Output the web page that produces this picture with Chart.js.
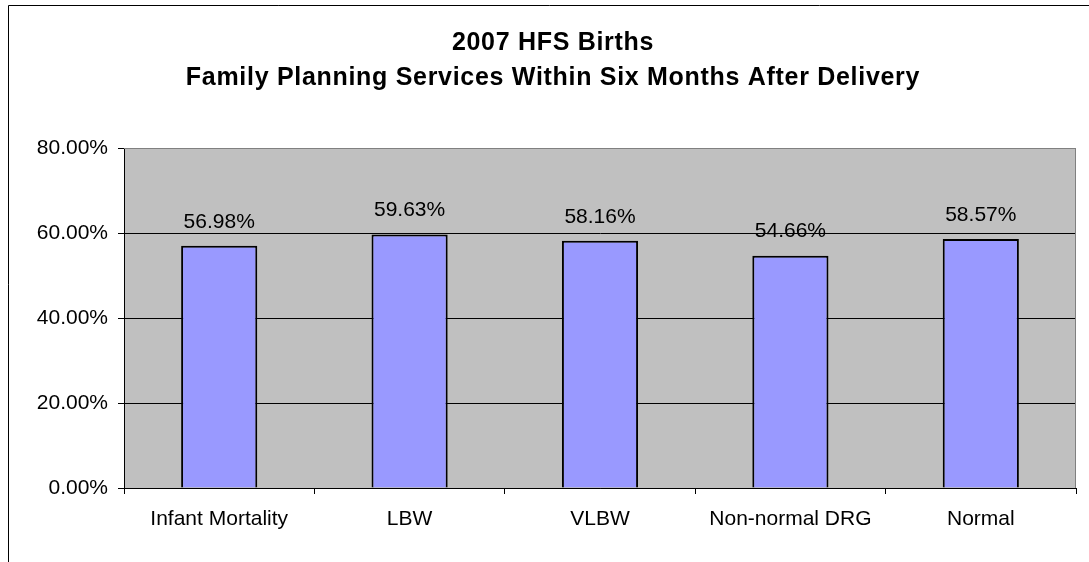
<!DOCTYPE html>
<html>
<head>
<meta charset="utf-8">
<script src="https://cdn.jsdelivr.net/npm/chart.js@4.4.0/dist/chart.umd.min.js"></script>
<style>
html,body{margin:0;padding:0;background:#fff;}
#wrap{width:1089px;height:562px;position:relative;}
</style>
</head>
<body>
<div id="wrap"><canvas id="c" width="1089" height="562"></canvas></div>
<script>
const titleLines = ['2007 HFS Births', 'Family Planning Services Within Six Months After Delivery'];
const categories = ['Infant Mortality', 'LBW', 'VLBW', 'Non-normal DRG', 'Normal'];
const values = [56.98, 59.63, 58.16, 54.66, 58.57];
const yTicks = [0, 20, 40, 60, 80];

const FONT = "'Liberation Sans', Arial, sans-serif";

const decorPlugin = {
  id: 'decor',
  beforeDraw(chart) {
    const ctx = chart.ctx, a = chart.chartArea;
    ctx.save();
    ctx.fillStyle = '#fff';
    ctx.fillRect(0, 0, chart.width, chart.height);
    ctx.fillStyle = '#C0C0C0';
    ctx.fillRect(a.left, a.top, a.right - a.left, a.bottom - a.top);
    ctx.strokeStyle = '#000';
    ctx.lineWidth = 1;
    ctx.beginPath();
    ctx.moveTo(8.5, chart.height + 2);
    ctx.lineTo(8.5, 5.5);
    ctx.lineTo(chart.width + 2, 5.5);
    ctx.stroke();
    // title
    ctx.fillStyle = '#000';
    ctx.font = 'bold 25px ' + FONT;
    ctx.textAlign = 'center';
    ctx.textBaseline = 'alphabetic';
    if ('letterSpacing' in ctx) ctx.letterSpacing = '0.7px';
    const cx = 553;
    ctx.fillText(titleLines[0], cx, 50);
    ctx.fillText(titleLines[1], cx, 85);
    if ('letterSpacing' in ctx) ctx.letterSpacing = '0px';
    ctx.restore();
  },
  afterDatasetsDraw(chart) {
    const ctx = chart.ctx, a = chart.chartArea;
    ctx.save();
    ctx.strokeStyle = '#808080';
    ctx.lineWidth = 1;
    ctx.beginPath();
    ctx.moveTo(a.left, a.top + 0.5);
    ctx.lineTo(a.right - 0.5, a.top + 0.5);
    ctx.lineTo(a.right - 0.5, a.bottom);
    ctx.stroke();
    const meta = chart.getDatasetMeta(0);
    ctx.fillStyle = '#000';
    ctx.font = '21px ' + FONT;
    ctx.textAlign = 'center';
    ctx.textBaseline = 'middle';
    meta.data.forEach((bar, i) => {
      ctx.fillText(values[i].toFixed(2) + '%', bar.x, bar.y - 24);
    });
    ctx.restore();
  }
};

new Chart(document.getElementById('c'), {
  type: 'bar',
  data: {
    labels: categories,
    datasets: [{
      data: values,
      backgroundColor: '#9999FF',
      borderColor: '#000',
      borderWidth: 2,
      borderSkipped: 'bottom',
      barPercentage: 0.4,
      categoryPercentage: 1.0
    }]
  },
  options: {
    responsive: false,
    animation: false,
    devicePixelRatio: 1,
    layout: { padding: { left: 0, right: 13, top: 148, bottom: 0 } },
    plugins: {
      legend: { display: false },
      tooltip: { enabled: false },
      title: { display: false }
    },
    scales: {
      x: {
        offset: true,
        grid: { display: true, offset: true, drawOnChartArea: false, drawTicks: true, tickLength: 6, color: '#000', tickColor: '#000' },
        border: { display: true, color: '#000', width: 1 },
        ticks: { color: '#000', font: { family: FONT, size: 21 }, padding: 13, maxRotation: 0, autoSkip: false },
        afterFit(s) { s.height = 74; }
      },
      y: {
        min: 0, max: 80,
        afterBuildTicks(s) { s.ticks = yTicks.map(v => ({ value: v })); },
        grid: {
          color: ctx => (ctx.tick && ctx.tick.value === 80) ? '#808080' : '#000',
          tickColor: '#000',
          tickLength: 6,
          drawTicks: true
        },
        border: { display: true, color: '#000', width: 1 },
        ticks: { color: '#000', font: { family: FONT, size: 21 }, padding: 10, callback: v => v.toFixed(2) + '%' },
        afterFit(s) { s.width = 124; }
      }
    }
  },
  plugins: [decorPlugin]
});
</script>
</body>
</html>
